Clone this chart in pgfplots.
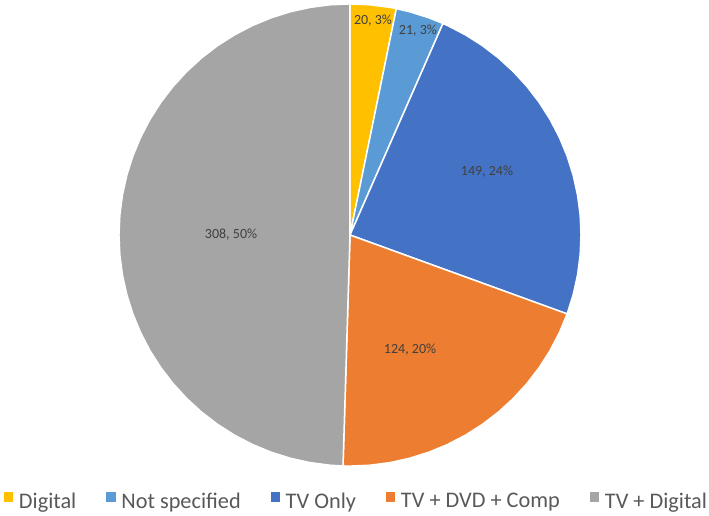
\documentclass[border=0pt]{standalone}
\usepackage{fontspec}
\setmainfont{Carlito}
\usepackage{pgfplots}
\pgfplotsset{compat=1.18}

\definecolor{cDigital}{HTML}{FFC000}
\definecolor{cNotSpec}{HTML}{5B9BD5}
\definecolor{cTVOnly}{HTML}{4472C4}
\definecolor{cTVDVD}{HTML}{ED7D31}
\definecolor{cTVDig}{HTML}{A5A5A5}
\definecolor{lbl}{HTML}{404040}
\definecolor{legtxt}{HTML}{595959}

% counts: Digital 20, Not specified 21, TV Only 149, TV+DVD+Comp 124, TV+Digital 308 (total 622)
% wedges start at 90 deg and run clockwise; arcs given as (angle, radius) in polar data cs

\begin{document}
\begin{tikzpicture}
\begin{axis}[
    scale only axis, width=709pt, height=516pt,
    xmin=-1.515, xmax=1.554, ymin=-1.216, ymax=1.017,
    hide axis, clip=false,
    legend columns=5,
    legend style={at={(0.5014,0.012)}, anchor=south, draw=none, fill=none,
        font=\fontsize{22.3}{26}\selectfont, text=legtxt, inner sep=0pt,
        nodes={inner sep=0pt},
        /tikz/every odd column/.append style={column sep=5.5pt},
        /tikz/every even column/.append style={column sep=30pt}},
    legend image code/.code={\path[#1, draw=none] (0pt,-0.5pt) rectangle (9.5pt,9pt);},
]
\path (rel axis cs:0,0) rectangle (rel axis cs:1,1);
\addplot[fill=cDigital, draw=white, line width=1.5pt, data cs=polar] coordinates {
(0,0) (90,1) (85,1) (80,1) (78.424,1) (0,0)};
\addplot[fill=cNotSpec, draw=white, line width=1.5pt, data cs=polar] coordinates {
(0,0) (78.424,1) (75,1) (70,1) (66.27,1) (0,0)};
\addplot[fill=cTVOnly, draw=white, line width=1.5pt, data cs=polar] coordinates {
(0,0) (66.27,1) (65,1) (60,1) (55,1) (50,1) (45,1) (40,1) (35,1) (30,1) (25,1)
(20,1) (15,1) (10,1) (5,1) (0,1) (-5,1) (-10,1) (-15,1) (-19.968,1) (0,0)};
\addplot[fill=cTVDVD, draw=white, line width=1.5pt, data cs=polar] coordinates {
(0,0) (-19.968,1) (-25,1) (-30,1) (-35,1) (-40,1) (-45,1) (-50,1) (-55,1) (-60,1)
(-65,1) (-70,1) (-75,1) (-80,1) (-85,1) (-90,1) (-91.736,1) (0,0)};
\addplot[fill=cTVDig, draw=white, line width=1.5pt, data cs=polar] coordinates {
(0,0) (-91.736,1) (-95,1) (-100,1) (-105,1) (-110,1) (-115,1) (-120,1) (-125,1)
(-130,1) (-135,1) (-140,1) (-145,1) (-150,1) (-155,1) (-160,1) (-165,1) (-170,1)
(-175,1) (-180,1) (-185,1) (-190,1) (-195,1) (-200,1) (-205,1) (-210,1) (-215,1)
(-220,1) (-225,1) (-230,1) (-235,1) (-240,1) (-245,1) (-250,1) (-255,1) (-260,1)
(-265,1) (-270,1) (0,0)};
\legend{Digital, Not specified, TV Only, TV + DVD + Comp, TV + Digital}
\addplot[draw=none, mark=none, nodes near coords, point meta=explicit symbolic,
    nodes near coords style={anchor=center, text=lbl, font=\fontsize{14}{16}\selectfont}]
coordinates {
(0.0996,0.926) [20, 3\%]
(0.294,0.883) [21, 3\%]
(0.593,0.273) [149, 24\%]
(0.260,-0.498) [124, 20\%]
(-0.515,0) [308, 50\%]
};
\end{axis}
\end{tikzpicture}
\end{document}
